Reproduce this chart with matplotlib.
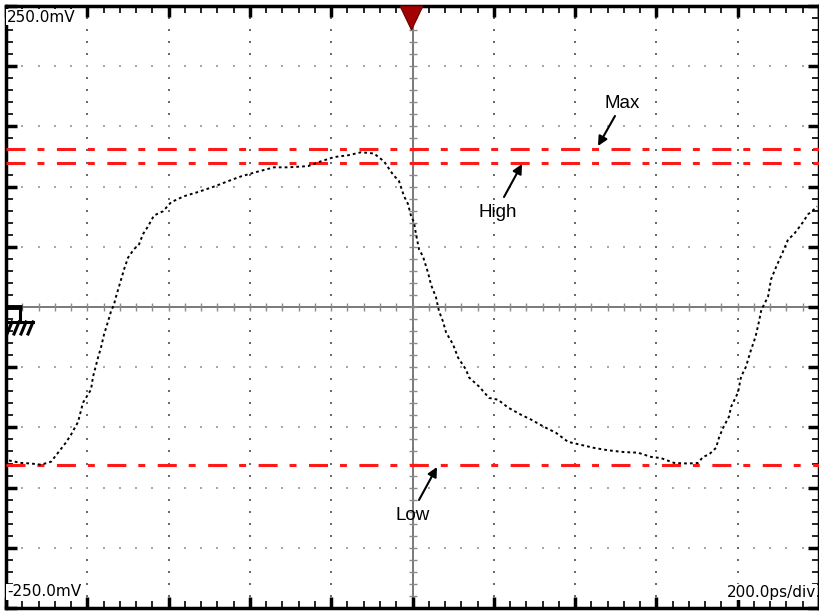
import numpy as np
import matplotlib
matplotlib.use('Agg')
import matplotlib.pyplot as plt
from matplotlib.patches import Polygon

plt.rcParams['lines.scale_dashes'] = False

# waveform samples, in screen divisions (x: 200 ps/div, y: volts/div)
trace_x = [0.037, 0.185, 0.308, 0.430, 0.554, 0.652, 0.738, 0.800, 0.886, 0.947,
           1.046, 1.070, 1.132, 1.169, 1.205, 1.255, 1.292, 1.328, 1.353, 1.390,
           1.451, 1.501, 1.574, 1.636, 1.685, 1.747, 1.820, 1.931, 2.030, 2.189,
           2.362, 2.558, 2.731, 2.891, 3.100, 3.296, 3.469, 3.715, 3.875, 4.034,
           4.207, 4.367, 4.526, 4.649, 4.760, 4.834, 4.896, 4.945, 4.982, 5.018,
           5.043, 5.080, 5.129, 5.191, 5.228, 5.289, 5.326, 5.375, 5.412, 5.498,
           5.560, 5.658, 5.695, 5.818, 5.941, 6.052, 6.175, 6.335, 6.458, 6.617,
           6.765, 6.913, 7.073, 7.232, 7.405, 7.601, 7.774, 7.934, 8.057, 8.217,
           8.389, 8.512, 8.573, 8.647, 8.733, 8.770, 8.819, 8.893, 8.918, 9.004,
           9.041, 9.102, 9.164, 9.201, 9.225, 9.262, 9.287, 9.323, 9.373, 9.410,
           9.471, 9.557, 9.619, 9.692, 9.754, 9.803, 9.865, 9.914, 9.975]
trace_y = [-2.55, -2.59, -2.60, -2.62, -2.57, -2.40, -2.25, -2.12, -1.91, -1.59,
           -1.37, -1.16, -0.84, -0.67, -0.46, -0.24, -0.07, 0.04, 0.17, 0.34,
           0.62, 0.82, 0.96, 1.04, 1.21, 1.34, 1.52, 1.59, 1.74, 1.84,
           1.91, 2.00, 2.09, 2.17, 2.25, 2.32, 2.32, 2.34, 2.42, 2.49,
           2.52, 2.57, 2.55, 2.42, 2.20, 2.09, 1.84, 1.71, 1.51, 1.41,
           1.21, 0.96, 0.84, 0.57, 0.37, 0.16, -0.07, -0.24, -0.42, -0.62,
           -0.84, -1.04, -1.17, -1.32, -1.51, -1.54, -1.67, -1.79, -1.87, -1.99,
           -2.09, -2.24, -2.29, -2.34, -2.38, -2.41, -2.42, -2.49, -2.51, -2.59,
           -2.60, -2.59, -2.49, -2.45, -2.34, -2.17, -2.01, -1.82, -1.66, -1.42,
           -1.16, -0.99, -0.71, -0.57, -0.46, -0.24, -0.07, 0.04, 0.17, 0.46,
           0.66, 0.92, 1.12, 1.21, 1.32, 1.41, 1.54, 1.59, 1.67]

# reference levels (divisions)
level_names = ['Max', 'High', 'Low']
level_values = [2.62, 2.39, -2.62]

top_label = '250.0mV'
bottom_label = '-250.0mV'
timebase_label = '200.0ps/div'

W, H = 820, 612
AX_L, AX_T, AX_W, AX_H = 6, 6, 813, 602

fig = plt.figure(figsize=(W / 100, H / 100), dpi=100)
ax = fig.add_axes([AX_L / W, (H - AX_T - AX_H) / H, AX_W / W, AX_H / H])
ax.set_xlim(0, 10)
ax.set_ylim(-5, 5)


def px(x, y):
    """pixel position -> screen divisions"""
    return (x - AX_L) / AX_W * 10, 5 - (y - AX_T) / AX_H * 10


# frame and inward ticks
for s in ax.spines.values():
    s.set_linewidth(2.5)
    s.set_color('black')
ax.set_xticks(np.arange(0, 11, 1))
ax.set_yticks(np.arange(-5, 6, 1))
ax.set_xticks(np.arange(0, 10.01, 0.2), minor=True)
ax.set_yticks(np.arange(-5, 5.01, 0.2), minor=True)
ax.tick_params(which='both', direction='in', top=True, right=True,
               labelbottom=False, labelleft=False, color='black')
ax.tick_params(which='major', length=8, width=2.5)
ax.tick_params(which='minor', length=5, width=1.2)

# dotted graticule
fine_x = np.arange(0, 10.01, 0.2)
fine_y = np.arange(-5, 5.01, 0.2)
for d in range(1, 10):
    if d != 5:
        ax.plot(np.full_like(fine_y, d), fine_y, ls='none', marker='s',
                ms=1.6, mew=0, color='#6a6a6a', zorder=1)
        ax.plot(fine_x, np.full_like(fine_x, d - 5), ls='none', marker='s',
                ms=1.5, mew=0, color='#a8a8a8', zorder=1)

# center cross with small ticks
ax.axhline(0, color='#6e6e6e', lw=1.3, zorder=1)
ax.axvline(5, color='#6e6e6e', lw=1.3, zorder=1)
ax.plot(fine_x, np.zeros_like(fine_x), ls='none', marker='|', ms=6,
        mew=1.0, color='#8a8a8a', zorder=1)
ax.plot(np.full_like(fine_y, 5), fine_y, ls='none', marker='_', ms=6,
        mew=1.0, color='#8a8a8a', zorder=1)

# cursor lines
for v in level_values:
    ax.axhline(v, color='#ff1a1a', lw=2.2, zorder=3,
               dashes=(13.7, 8.6, 5.0, 9.0), dash_capstyle='butt')

# acquired waveform
ax.plot(trace_x, trace_y, color='black', lw=1.4, ls=(0, (2.0, 2.2)), zorder=4)

# trigger position marker
tri = [px(400, 6), px(423, 6), px(411.5, 30)]
ax.add_patch(Polygon(tri, closed=True, facecolor='#a30000',
                     edgecolor='#6b0000', lw=0.8, zorder=5, clip_on=False))

# ground reference marker
ax.plot(*zip(px(6, 307), px(22, 307)), color='black', lw=3.5,
        solid_capstyle='butt', zorder=5)
ax.plot(*zip(px(20, 307), px(20, 322)), color='black', lw=2.2, zorder=5)
ax.plot(*zip(px(8, 322), px(33, 322)), color='black', lw=2.2, zorder=5)
for xs in (12, 19, 26, 33):
    ax.plot(*zip(px(xs, 322), px(xs - 5, 334)), color='black', lw=2.2, zorder=5)

# scale readouts
font = dict(family=['Liberation Sans Narrow', 'DejaVu Sans'], fontsize=11)
ax.text(*px(7, 17), top_label, ha='left', va='center', zorder=6,
        bbox=dict(fc='white', ec='none', pad=0.5), **font)
ax.text(*px(7, 592), bottom_label, ha='left', va='center', zorder=6,
        bbox=dict(fc='white', ec='none', pad=0.5), **font)
ax.text(*px(816, 592), timebase_label, ha='right', va='center', zorder=6,
        bbox=dict(fc='white', ec='none', pad=0.5), **font)

# level annotations
label_font = dict(family=['Liberation Sans Narrow', 'Liberation Sans'], fontsize=13.5)
label_pos = [(622, 103), (498, 212), (413, 515)]
arrow_tail = [(615, 116), (504, 197), (419, 500)]
arrow_head = [(598, 146), (522, 164), (437, 467)]
for name, tp, at, ah in zip(level_names, label_pos, arrow_tail, arrow_head):
    ax.text(*px(*tp), name, ha='center', va='center', zorder=6, **label_font)
    ax.annotate('', xy=px(*ah), xytext=px(*at), zorder=6,
                arrowprops=dict(arrowstyle='-|>', color='black', lw=1.5,
                                mutation_scale=14, shrinkA=0, shrinkB=0))

fig.savefig('out.png', dpi=100)
